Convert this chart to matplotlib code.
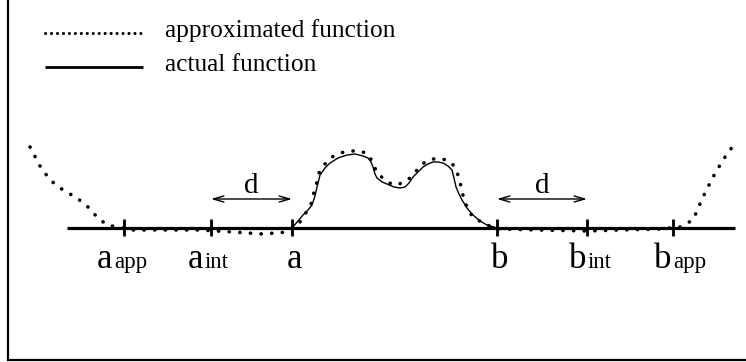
import matplotlib
matplotlib.use("Agg")
import matplotlib.pyplot as plt

# ---- data (schematic units: x along the axis, y = height above the axis) ----
tick_names = ["a_app", "a_int", "a", "b", "b_int", "b_app"]
tick_main = ["a", "a", "a", "b", "b", "b"]
tick_sub = ["app", "int", "", "", "int", "app"]
tick_x = [124, 211, 292, 497, 587, 673]

actual_x = [292, 298, 303, 308, 312, 315, 317, 320, 325, 330, 338, 347, 355,
            363, 368, 371, 373, 375, 377, 382, 387, 394, 400, 405, 409, 413,
            418, 423, 428, 433, 438, 443, 448, 452, 454, 456, 459, 462, 467,
            473, 480, 487, 497]
actual_y = [0, 7, 13, 18, 23, 32, 41, 53, 60, 65, 70, 73, 74,
            72, 70, 66, 61, 54, 50, 46, 44, 41, 40, 41, 45, 51,
            56, 61, 64, 66, 66, 65, 62, 58, 50, 41, 34, 28, 20,
            13, 7, 3, 0]

approx_x = [30, 40, 50, 63, 77, 88, 97, 107, 133, 200, 233, 263, 287, 300, 307,
            312, 314, 317, 319, 325, 332, 340, 350, 360, 368, 373, 377, 385,
            393, 403, 410, 417, 425, 433, 443, 452, 457, 460, 462, 465, 468,
            473, 483, 492, 500, 540, 587, 620, 660, 680, 693, 703, 713, 723,
            735]
approx_y = [81, 62, 48, 38, 30, 21, 11, 3, -2, -2, -4, -6, -4, 6, 17,
            26, 36, 46, 55, 64, 71, 75, 77, 77, 74, 65, 55, 48,
            43, 45, 50, 58, 66, 69, 69, 65, 56, 46, 36, 26, 18,
            11, 5, 1, -1, -2, -3, -2, -1, 1, 8, 31, 51, 68,
            85]

axis_x = [67, 735]
legend_labels = ["approximated function", "actual function"]
d_label = "d"

# ---- drawing ----
W, H = 746, 362
fig = plt.figure(figsize=(W / 100, H / 100), dpi=100)
ax = fig.add_axes([0, 0, 1, 1])
ax.set_xlim(0, W)
ax.set_ylim(228 - H, 228)
ax.axis("off")

serif = ["Liberation Serif", "DejaVu Serif"]

# frame (left and bottom edges visible)
ax.plot([8, 8, W + 5], [240, -131.5, -131.5], color="black", lw=1.6,
        solid_joinstyle="miter", clip_on=False)

# axis line
ax.plot(axis_x, [0, 0], color="black", lw=2.3, solid_capstyle="butt")

# ticks
for x in tick_x:
    ax.plot([x, x], [-8, 9], color="black", lw=2.0, solid_capstyle="butt")

# actual function
ax.plot(actual_x, actual_y, color="black", lw=1.0)

# approximated function
ax.plot(approx_x, approx_y, color="black", lw=2.6,
        dashes=(0.05, 2.9), dash_capstyle="round")

# tick labels
junction_dx = {"a_app": -11, "a_int": -7, "b_int": 0, "b_app": -1}
center_dx = {"a": 2, "b": 3}
label_base = -40
for name, main, sub, x in zip(tick_names, tick_main, tick_sub, tick_x):
    if sub:
        jx = x + junction_dx[name]
        ax.text(jx - 1, label_base, main, ha="right", va="baseline",
                fontsize=25, family=serif)
        ax.text(jx + 1, label_base, sub, ha="left", va="baseline",
                fontsize=16.5, family=serif)
    else:
        ax.text(x + center_dx[name], label_base, main, ha="center",
                va="baseline", fontsize=25, family=serif)

# distance arrows d
pairs = [(tick_x[1], tick_x[2]), (tick_x[3], tick_x[4])]
for x0, x1 in pairs:
    ax.annotate("", xy=(x0, 29), xytext=(x1, 29),
                arrowprops=dict(arrowstyle="<->,head_length=0.75,head_width=0.22",
                                color="black", lw=1.0, shrinkA=0, shrinkB=0))
    ax.text((x0 + x1) / 2, 35, d_label, ha="center", va="baseline",
            fontsize=21, family=serif)

# legend
ax.plot([45, 143], [228 - 33, 228 - 33], color="black", lw=2.2,
        dashes=(0.05, 1.9), dash_capstyle="round")
ax.plot([45, 143], [228 - 67, 228 - 67], color="black", lw=2.0,
        solid_capstyle="butt")
ax.text(165, 228 - 37, legend_labels[0], ha="left", va="baseline",
        fontsize=18.3, family=serif)
ax.text(165, 228 - 71, legend_labels[1], ha="left", va="baseline",
        fontsize=18.3, family=serif)

fig.savefig("out.png", dpi=100)
